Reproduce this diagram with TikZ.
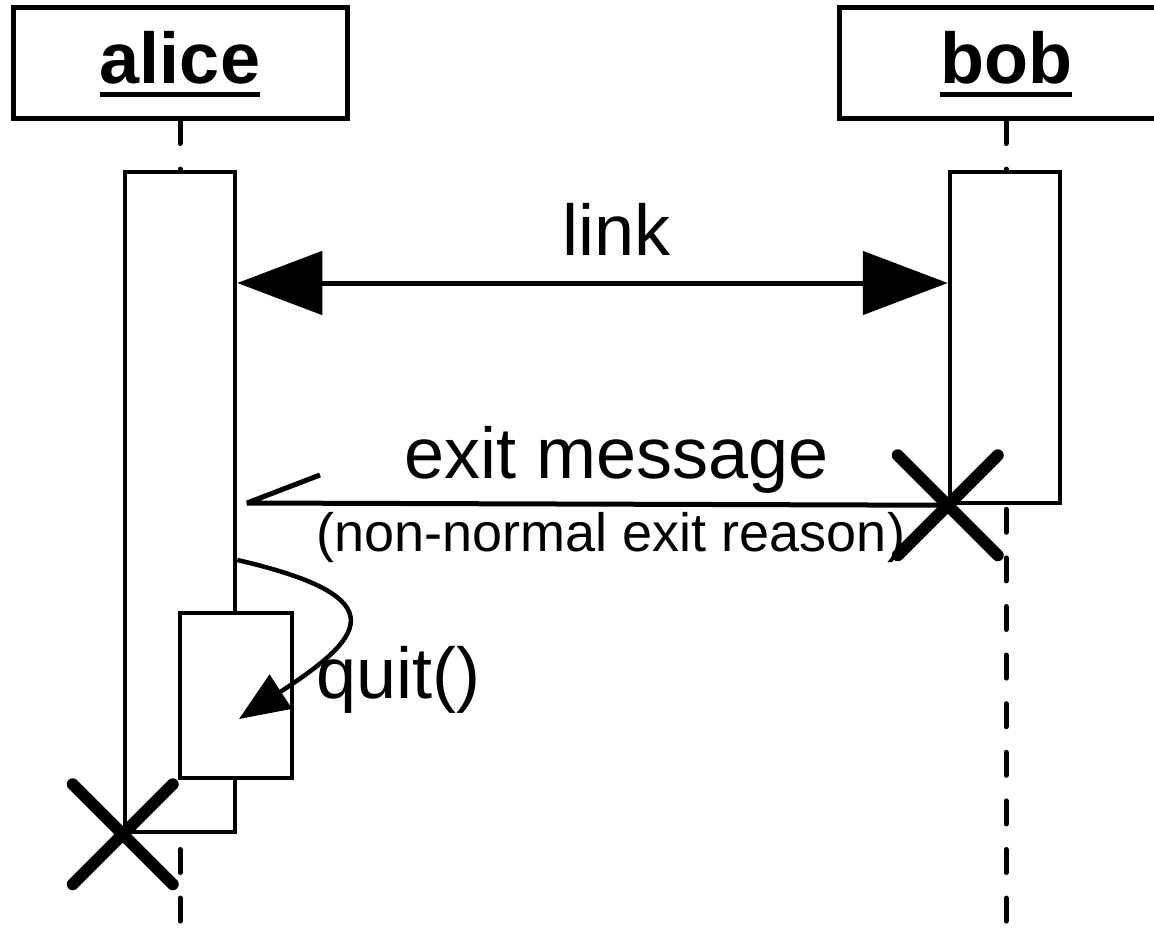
\documentclass[tikz,border=0pt]{standalone}
\usepackage{fontspec}
\setmainfont{Liberation Sans}
\usetikzlibrary{arrows.meta}

% underlined object name
\newcommand{\objname}[1]{\setbox0\hbox{#1}\rlap{\rule[-13.5pt]{\wd0}{5pt}}\box0}

\begin{document}
\begin{tikzpicture}[x=1pt, y=1pt,
    object/.style = {draw, line width=5pt, minimum width=334pt, minimum height=111pt, inner sep=0pt,
                     text height=46pt, text depth=4pt, font=\fontsize{72}{86}\selectfont\bfseries},
    lifeline/.style = {line width=5pt, line cap=round, dash pattern=on 23pt off 25.6pt},
    activation/.style = {draw, fill=white, line width=4.5pt, minimum width=110pt, inner sep=0pt},
    msg/.style = {line width=5pt},
    msglabel/.style = {inner sep=0pt, font=\fontsize{72}{86}\selectfont},
    kill/.style = {line width=12pt, line cap=round}]
    
    \useasboundingbox (0,0) rectangle (1154,-929);
    
    % Objects + lifelines
    \node (alice) [object] at (180,-62.5) {\objname{alice}};
    \node (bob) [object] at (1006,-62.5) {\objname{bob}};
    \coordinate (aliceend) at (180,-929);
    \coordinate (bobend) at (1006,-929);
    \draw[lifeline] (alice.south) -- (aliceend);
    \draw[lifeline] (bob.south) -- (bobend);
    
    % Activations
    \node (aliceact) [activation, minimum height=660pt] at (180,-502) {};
    \node (quitact) [activation, minimum width=112pt, minimum height=165pt] at (236,-695.5) {};
    \node (bobact) [activation, minimum height=331pt] at (1005,-337.5) {};
    
    % Messages
    \draw[msg, {Triangle[length=85pt,width=63pt]}-{Triangle[length=85pt,width=63pt]}]
        (aliceact.east |- 0,-283) -- (bobact.west |- 0,-283);
    \node (link) [msglabel, anchor=base] at (617,-255) {link};
    
    \coordinate (bobdies) at (bobact.south west);
    \coordinate (exittip) at (247,-503);
    \draw[msg, line join=bevel] (bobdies) -- (exittip) -- ++(73,28);
    \node (exitmsg) [msglabel, anchor=base] at (617,-478) {exit message};
    \node (reason) [msglabel, anchor=base, font=\fontsize{54}{64}\selectfont] at (611,-551) {(non-normal exit reason)};
    
    \coordinate (quitfrom) at (aliceact.east |- 0,-560);
    \coordinate (quittip) at (239,-719);
    \draw[msg, line width=4.5pt, -{Triangle[length=50pt,width=40pt]}]
        (quitfrom) .. controls +(165,-38) and +(122,80) .. (quittip);
    \node (quit) [msglabel, anchor=base west] at (316,-698) {quit()};
    
    % Destruction
    \coordinate (alicedies) at (aliceact.south west);
    \draw[kill] (alicedies) +(-50,50) -- +(50,-50) +(-50,-50) -- +(50,50);
    \draw[kill] (bobdies) +(-50,50) -- +(50,-50) +(-50,-50) -- +(50,50);
    
\end{tikzpicture}
\end{document}
